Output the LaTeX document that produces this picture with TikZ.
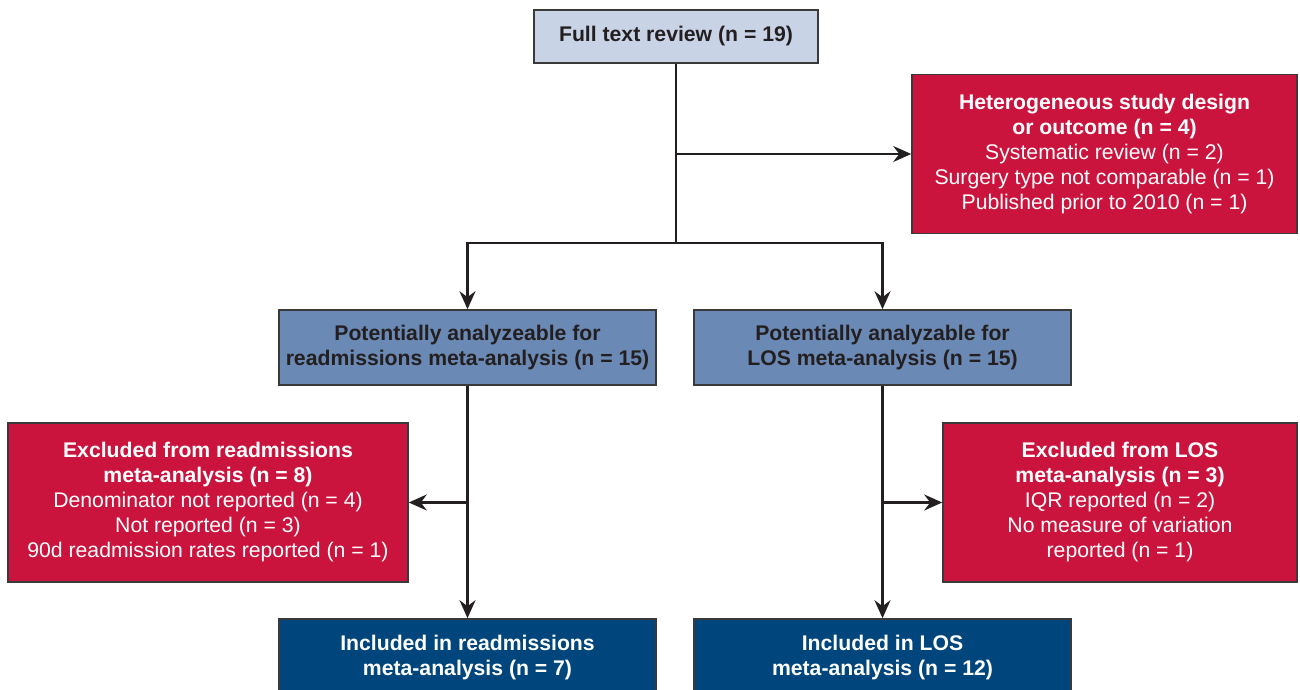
\documentclass[tikz,border=0pt]{standalone}
\usepackage{fontspec}
\setmainfont{Liberation Sans}
\usepackage{tikz}
\usetikzlibrary{arrows.meta}
\usetikzlibrary{calc}

\definecolor{reviewgray}{HTML}{C9D3E6}
\definecolor{excludered}{HTML}{CB143D}
\definecolor{midblue}{HTML}{6A89B4}
\definecolor{darkblue}{HTML}{00457C}
\definecolor{inktext}{HTML}{231F20}
\definecolor{edgegray}{HTML}{3A3A3A}

\begin{document}
\begin{tikzpicture}[
        x=0.5pt, y=-0.5pt,
        font=\fontsize{10.6}{12.5}\selectfont,
        box/.style={rectangle, draw=edgegray, line width=0.8pt, align=center, inner sep=0pt},
        reviewbox/.style={box, fill=reviewgray, text=inktext, minimum width=142pt, minimum height=26.5pt},
        excludebox/.style={box, fill=excludered, text=white, minimum height=79.5pt},
        candbox/.style={box, fill=midblue, text=inktext, minimum width=188.5pt, minimum height=37.5pt},
        finalbox/.style={box, fill=darkblue, text=white, minimum width=188.5pt, minimum height=39pt},
        flow/.style={-{Stealth[length=9pt, width=8pt, inset=3pt]}, line width=1.05pt, inktext},
        link/.style={line width=1.05pt, inktext}
    ]
        \useasboundingbox (0,0) rectangle (1300,690);

        % --- Revision de texto completo ---
        \node[reviewbox] (review) at (676,36.5) {\textbf{Full text review (n = 19)}};

        % --- Excluidos por heterogeneidad ---
        \node[excludebox, minimum width=192.5pt] (hetero) at (1104.5,154)
            {\textbf{Heterogeneous study design}\\ \textbf{or outcome (n = 4)}\\
             Systematic review (n = 2)\\ Surgery type not comparable (n = 1)\\
             Published prior to 2010 (n = 1)};

        % --- Potencialmente analizables ---
        \node[candbox] (readm) at (467.5,347.5)
            {\textbf{Potentially analyzeable for}\\ \textbf{readmissions meta-analysis (n = 15)}};
        \node[candbox] (los) at (882.5,347.5)
            {\textbf{Potentially analyzable for}\\ \textbf{LOS meta-analysis (n = 15)}};

        % --- Excluidos de cada meta-analisis ---
        \node[excludebox, minimum width=200pt] (exreadm) at (208,502.5)
            {\textbf{Excluded from readmissions}\\ \textbf{meta-analysis (n = 8)}\\
             Denominator not reported (n = 4)\\ Not reported (n = 3)\\
             90d readmission rates reported (n = 1)};
        \node[excludebox, minimum width=177pt] (exlos) at (1120,502.5)
            {\textbf{Excluded from LOS}\\ \textbf{meta-analysis (n = 3)}\\
             IQR reported (n = 2)\\ No measure of variation\\ reported (n = 1)};

        % --- Incluidos (cortados por el borde inferior) ---
        \node[finalbox] (inreadm) at (467.5,658)
            {\textbf{Included in readmissions}\\ \textbf{meta-analysis (n = 7)}};
        \node[finalbox] (inlos) at (882.5,658)
            {\textbf{Included in LOS}\\ \textbf{meta-analysis (n = 12)}};

        % --- Conectores ---
        \coordinate (fork) at ($(review.south |- 0,243)$);
        \draw[link] (review.south) -- (fork);
        \draw[flow] (review.south |- hetero.west) -- (hetero.west);
        \draw[flow] (fork) -| (readm.north);
        \draw[flow] (fork) -| (los.north);

        \draw[flow] (readm.south) -- (inreadm.north);
        \draw[flow] (readm.south |- exreadm.east) -- (exreadm.east);
        \draw[flow] (los.south) -- (inlos.north);
        \draw[flow] (los.south |- exlos.west) -- (exlos.west);

    \end{tikzpicture}
\end{document}
